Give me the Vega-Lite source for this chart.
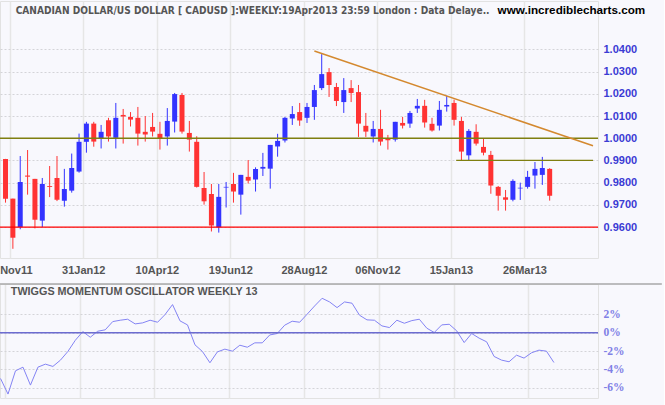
{
  "$schema": "https://vega.github.io/schema/vega-lite/v6.json",
  "background": "#f8f8fd",
  "padding": {"left": -14, "top": 0, "right": 0, "bottom": 8},
  "bounds": "flush",
  "spacing": 26,
  "config": {
    "view": {"stroke": "#e2e2e2"},
    "axis": {"labelFont": "Liberation Sans", "titleFont": "Liberation Sans"}
  },
  "datasets": {
    "candles": [
      {"d": "2011-11-18", "o": 0.9907, "h": 0.9907, "l": 0.9710, "c": 0.9728},
      {"d": "2011-11-25", "o": 0.9728, "h": 0.9728, "l": 0.9502, "c": 0.9552},
      {"d": "2011-12-02", "o": 0.9600, "h": 0.9920, "l": 0.9590, "c": 0.9803},
      {"d": "2011-12-09", "o": 0.9832, "h": 0.9947, "l": 0.9746, "c": 0.9827},
      {"d": "2011-12-16", "o": 0.9817, "h": 0.9817, "l": 0.9594, "c": 0.9633},
      {"d": "2011-12-23", "o": 0.9629, "h": 0.9821, "l": 0.9600, "c": 0.9794},
      {"d": "2011-12-30", "o": 0.9785, "h": 0.9875, "l": 0.9735, "c": 0.9781},
      {"d": "2012-01-06", "o": 0.9821, "h": 0.9920, "l": 0.9717, "c": 0.9723},
      {"d": "2012-01-13", "o": 0.9719, "h": 0.9862, "l": 0.9692, "c": 0.9771},
      {"d": "2012-01-20", "o": 0.9764, "h": 0.9931, "l": 0.9755, "c": 0.9866},
      {"d": "2012-01-27", "o": 0.9850, "h": 1.0021, "l": 0.9845, "c": 0.9984},
      {"d": "2012-02-03", "o": 0.9984, "h": 1.0074, "l": 0.9935, "c": 1.0066},
      {"d": "2012-02-10", "o": 1.0066, "h": 1.0074, "l": 0.9962, "c": 0.9985},
      {"d": "2012-02-17", "o": 1.0000, "h": 1.0060, "l": 0.9954, "c": 1.0029},
      {"d": "2012-02-24", "o": 1.0081, "h": 1.0092, "l": 0.9985, "c": 1.0008},
      {"d": "2012-03-02", "o": 1.0002, "h": 1.0159, "l": 0.9954, "c": 1.0092},
      {"d": "2012-03-09", "o": 1.0105, "h": 1.0132, "l": 0.9976, "c": 1.0098},
      {"d": "2012-03-16", "o": 1.0096, "h": 1.0118, "l": 1.0053, "c": 1.0084},
      {"d": "2012-03-23", "o": 1.0092, "h": 1.0141, "l": 0.9967, "c": 1.0021},
      {"d": "2012-03-30", "o": 1.0029, "h": 1.0100, "l": 0.9985, "c": 1.0017},
      {"d": "2012-04-06", "o": 1.0051, "h": 1.0114, "l": 1.0008, "c": 1.0030},
      {"d": "2012-04-13", "o": 1.0020, "h": 1.0074, "l": 0.9949, "c": 1.0000},
      {"d": "2012-04-20", "o": 1.0008, "h": 1.0136, "l": 0.9967, "c": 1.0078},
      {"d": "2012-04-27", "o": 1.0075, "h": 1.0204, "l": 1.0026, "c": 1.0199},
      {"d": "2012-05-04", "o": 1.0195, "h": 1.0204, "l": 1.0021, "c": 1.0030},
      {"d": "2012-05-11", "o": 1.0024, "h": 1.0078, "l": 0.9940, "c": 0.9994},
      {"d": "2012-05-18", "o": 0.9984, "h": 1.0009, "l": 0.9778, "c": 0.9781},
      {"d": "2012-05-25", "o": 0.9776, "h": 0.9848, "l": 0.9701, "c": 0.9716},
      {"d": "2012-06-01", "o": 0.9749, "h": 0.9794, "l": 0.9580, "c": 0.9607},
      {"d": "2012-06-08", "o": 0.9599, "h": 0.9794, "l": 0.9575, "c": 0.9736},
      {"d": "2012-06-15", "o": 0.9778, "h": 0.9803, "l": 0.9688, "c": 0.9781},
      {"d": "2012-06-22", "o": 0.9794, "h": 0.9844, "l": 0.9710, "c": 0.9760},
      {"d": "2012-06-29", "o": 0.9746, "h": 0.9835, "l": 0.9656, "c": 0.9835},
      {"d": "2012-07-06", "o": 0.9826, "h": 0.9902, "l": 0.9796, "c": 0.9809},
      {"d": "2012-07-13", "o": 0.9814, "h": 0.9869, "l": 0.9760, "c": 0.9862},
      {"d": "2012-07-20", "o": 0.9863, "h": 0.9934, "l": 0.9830, "c": 0.9871},
      {"d": "2012-07-27", "o": 0.9863, "h": 0.9970, "l": 0.9773, "c": 0.9970},
      {"d": "2012-08-03", "o": 0.9963, "h": 1.0020, "l": 0.9917, "c": 0.9988},
      {"d": "2012-08-10", "o": 0.9990, "h": 1.0096, "l": 0.9981, "c": 1.0092},
      {"d": "2012-08-17", "o": 1.0089, "h": 1.0145, "l": 1.0060, "c": 1.0109},
      {"d": "2012-08-24", "o": 1.0118, "h": 1.0159, "l": 1.0056, "c": 1.0080},
      {"d": "2012-08-31", "o": 1.0092, "h": 1.0159, "l": 1.0069, "c": 1.0141},
      {"d": "2012-09-07", "o": 1.0141, "h": 1.0240, "l": 1.0083, "c": 1.0217},
      {"d": "2012-09-14", "o": 1.0226, "h": 1.0379, "l": 1.0217, "c": 1.0289},
      {"d": "2012-09-21", "o": 1.0298, "h": 1.0316, "l": 1.0186, "c": 1.0240},
      {"d": "2012-09-28", "o": 1.0231, "h": 1.0249, "l": 1.0145, "c": 1.0168},
      {"d": "2012-10-05", "o": 1.0163, "h": 1.0271, "l": 1.0114, "c": 1.0217},
      {"d": "2012-10-12", "o": 1.0226, "h": 1.0262, "l": 1.0163, "c": 1.0204},
      {"d": "2012-10-19", "o": 1.0208, "h": 1.0240, "l": 1.0006, "c": 1.0066},
      {"d": "2012-10-26", "o": 1.0056, "h": 1.0114, "l": 1.0006, "c": 1.0030},
      {"d": "2012-11-02", "o": 1.0008, "h": 1.0078, "l": 0.9981, "c": 1.0042},
      {"d": "2012-11-09", "o": 1.0042, "h": 1.0128, "l": 0.9967, "c": 0.9985},
      {"d": "2012-11-16", "o": 0.9999, "h": 1.0015, "l": 0.9949, "c": 0.9991},
      {"d": "2012-11-23", "o": 0.9994, "h": 1.0074, "l": 0.9985, "c": 1.0074},
      {"d": "2012-11-30", "o": 1.0069, "h": 1.0096, "l": 1.0044, "c": 1.0057},
      {"d": "2012-12-07", "o": 1.0066, "h": 1.0123, "l": 1.0047, "c": 1.0114},
      {"d": "2012-12-14", "o": 1.0134, "h": 1.0177, "l": 1.0114, "c": 1.0146},
      {"d": "2012-12-21", "o": 1.0146, "h": 1.0173, "l": 1.0048, "c": 1.0071},
      {"d": "2012-12-28", "o": 1.0065, "h": 1.0092, "l": 1.0030, "c": 1.0035},
      {"d": "2013-01-04", "o": 1.0057, "h": 1.0168, "l": 1.0035, "c": 1.0128},
      {"d": "2013-01-11", "o": 1.0143, "h": 1.0191, "l": 1.0120, "c": 1.0150},
      {"d": "2013-01-18", "o": 1.0159, "h": 1.0174, "l": 1.0057, "c": 1.0083},
      {"d": "2013-01-25", "o": 1.0078, "h": 1.0096, "l": 0.9901, "c": 0.9940},
      {"d": "2013-02-01", "o": 0.9923, "h": 1.0041, "l": 0.9901, "c": 1.0033},
      {"d": "2013-02-08", "o": 1.0029, "h": 1.0063, "l": 0.9967, "c": 0.9976},
      {"d": "2013-02-15", "o": 0.9961, "h": 0.9997, "l": 0.9923, "c": 0.9935},
      {"d": "2013-02-22", "o": 0.9925, "h": 0.9943, "l": 0.9750, "c": 0.9787},
      {"d": "2013-03-01", "o": 0.9781, "h": 0.9785, "l": 0.9674, "c": 0.9741},
      {"d": "2013-03-08", "o": 0.9734, "h": 0.9767, "l": 0.9674, "c": 0.9723},
      {"d": "2013-03-15", "o": 0.9723, "h": 0.9815, "l": 0.9716, "c": 0.9808},
      {"d": "2013-03-22", "o": 0.9774, "h": 0.9800, "l": 0.9722, "c": 0.9777},
      {"d": "2013-03-29", "o": 0.9781, "h": 0.9853, "l": 0.9773, "c": 0.9826},
      {"d": "2013-04-05", "o": 0.9832, "h": 0.9893, "l": 0.9773, "c": 0.9862},
      {"d": "2013-04-12", "o": 0.9835, "h": 0.9916, "l": 0.9790, "c": 0.9866},
      {"d": "2013-04-19", "o": 0.9862, "h": 0.9865, "l": 0.9719, "c": 0.9741}
    ],
    "osc": [
      {"d": "2011-11-18", "v": -5.0}, {"d": "2011-11-25", "v": -6.7}, {"d": "2011-12-02", "v": -4.16},
      {"d": "2011-12-09", "v": -3.76}, {"d": "2011-12-16", "v": -5.72}, {"d": "2011-12-23", "v": -3.76},
      {"d": "2011-12-30", "v": -3.43}, {"d": "2012-01-06", "v": -3.68}, {"d": "2012-01-13", "v": -3.0},
      {"d": "2012-01-20", "v": -2.05}, {"d": "2012-01-27", "v": -0.82}, {"d": "2012-02-03", "v": 0.13},
      {"d": "2012-02-10", "v": -0.49}, {"d": "2012-02-17", "v": 0.17}, {"d": "2012-02-24", "v": 0.32},
      {"d": "2012-03-02", "v": 1.22}, {"d": "2012-03-09", "v": 1.37}, {"d": "2012-03-16", "v": 1.48},
      {"d": "2012-03-23", "v": 0.97}, {"d": "2012-03-30", "v": 1.08}, {"d": "2012-04-06", "v": 1.37},
      {"d": "2012-04-13", "v": 1.15}, {"d": "2012-04-20", "v": 1.99}, {"d": "2012-04-27", "v": 3.08},
      {"d": "2012-05-04", "v": 1.30}, {"d": "2012-05-11", "v": 0.86}, {"d": "2012-05-18", "v": -1.32},
      {"d": "2012-05-25", "v": -2.05}, {"d": "2012-06-01", "v": -3.28}, {"d": "2012-06-08", "v": -2.09},
      {"d": "2012-06-15", "v": -1.79}, {"d": "2012-06-22", "v": -2.01}, {"d": "2012-06-29", "v": -1.36},
      {"d": "2012-07-06", "v": -1.58}, {"d": "2012-07-13", "v": -1.10}, {"d": "2012-07-20", "v": -1.10},
      {"d": "2012-07-27", "v": -0.24}, {"d": "2012-08-03", "v": -0.08}, {"d": "2012-08-10", "v": 0.83},
      {"d": "2012-08-17", "v": 1.26}, {"d": "2012-08-24", "v": 1.15}, {"d": "2012-08-31", "v": 2.03},
      {"d": "2012-09-07", "v": 2.93}, {"d": "2012-09-14", "v": 3.77}, {"d": "2012-09-21", "v": 3.37},
      {"d": "2012-09-28", "v": 2.75}, {"d": "2012-10-05", "v": 3.37}, {"d": "2012-10-12", "v": 3.23},
      {"d": "2012-10-19", "v": 1.92}, {"d": "2012-10-26", "v": 1.41}, {"d": "2012-11-02", "v": 1.37},
      {"d": "2012-11-09", "v": 0.75}, {"d": "2012-11-16", "v": 0.57}, {"d": "2012-11-23", "v": 1.37},
      {"d": "2012-11-30", "v": 1.04}, {"d": "2012-12-07", "v": 1.33}, {"d": "2012-12-14", "v": 1.48},
      {"d": "2012-12-21", "v": 0.50}, {"d": "2012-12-28", "v": 0.03}, {"d": "2013-01-04", "v": 0.86},
      {"d": "2013-01-11", "v": 0.93}, {"d": "2013-01-18", "v": 0.21}, {"d": "2013-01-25", "v": -1.07},
      {"d": "2013-02-01", "v": -0.08}, {"d": "2013-02-08", "v": -0.59}, {"d": "2013-02-15", "v": -0.99},
      {"d": "2013-02-22", "v": -2.59}, {"d": "2013-03-01", "v": -2.99}, {"d": "2013-03-08", "v": -3.17},
      {"d": "2013-03-15", "v": -2.45}, {"d": "2013-03-22", "v": -2.77}, {"d": "2013-03-29", "v": -2.19},
      {"d": "2013-04-05", "v": -1.90}, {"d": "2013-04-12", "v": -2.01}, {"d": "2013-04-19", "v": -3.25}
    ]
  },
  "vconcat": [
    {
      "width": 598,
      "height": 257,
      "layer": [
        {
          "data": {"name": "candles"},
          "mark": {"type": "rule", "strokeWidth": 1, "clip": false},
          "encoding": {
            "x": {"field": "d", "type": "temporal", "title": null,
              "scale": {"type": "utc", "domain": [{"year": 2011, "month": 11, "date": 17, "hours": 12, "utc": true}, {"year": 2013, "month": 5, "date": 30, "hours": 6, "utc": true}]},
              "axis": {"values": [
                {"year": 2011, "month": 11, "date": 22, "utc": true},
                {"year": 2012, "month": 1, "date": 31, "utc": true},
                {"year": 2012, "month": 4, "date": 10, "utc": true},
                {"year": 2012, "month": 6, "date": 19, "utc": true},
                {"year": 2012, "month": 8, "date": 28, "utc": true},
                {"year": 2012, "month": 11, "date": 6, "utc": true},
                {"year": 2013, "month": 1, "date": 15, "utc": true},
                {"year": 2013, "month": 3, "date": 26, "utc": true}],
                "tickCount": 30,
                "format": "%d%b%y", "grid": true, "gridColor": "#e6e6e6", "gridWidth": 1.5, "ticks": false, "domain": false,
                "labelFont": "Liberation Sans", "labelFontSize": 11, "labelFontWeight": "bold", "labelColor": "#555555",
                "labelPadding": 6, "labelFlush": false, "labelOverlap": false, "title": null}},
            "y": {"field": "l", "type": "quantitative", "title": null,
              "scale": {"domain": [0.94606, 1.06183], "nice": false, "zero": false},
              "axis": {"orient": "right", "values": [0.96, 0.97, 0.98, 0.99, 1.0, 1.01, 1.02, 1.03, 1.04], "tickCount": 30, "format": ".4f",
                "grid": true, "gridDash": [2, 2], "gridColor": "#d4d4d8", "ticks": false, "domain": false, "labelOverlap": false,
                "labelFont": "Liberation Sans", "labelFontSize": 11, "labelFontWeight": "bold", "labelColor": "#3b3bd4", "labelPadding": 5, "title": null}},
            "y2": {"field": "h"},
            "color": {"condition": {"test": "datum.c >= datum.o", "value": "#3333ff"}, "value": "#ff3333"}
          }
        },
        {
          "data": {"name": "candles"},
          "mark": {"type": "bar", "width": 5, "clip": false},
          "encoding": {
            "x": {"field": "d", "type": "temporal", "title": null},
            "y": {"field": "o", "type": "quantitative", "title": null},
            "y2": {"field": "c"},
            "color": {"condition": {"test": "datum.c >= datum.o", "value": "#3333ff"}, "value": "#ff3333"}
          }
        },
        {
          "data": {"values": [{}]},
          "mark": {"type": "rule", "color": "#7f7f10", "strokeWidth": 1.3},
          "encoding": {"y": {"datum": 1.0, "type": "quantitative"}}
        },
        {
          "data": {"values": [{}]},
          "mark": {"type": "rule", "color": "#ff0000", "strokeWidth": 1.3},
          "encoding": {"y": {"datum": 0.96, "type": "quantitative"}}
        },
        {
          "data": {"values": [{"a": "2013-01-20", "b": "2013-05-30T06:00:00Z", "p": 0.99}]},
          "mark": {"type": "rule", "color": "#7f7f10", "strokeWidth": 1.3},
          "encoding": {
            "x": {"field": "a", "type": "temporal"},
            "x2": {"field": "b"},
            "y": {"field": "p", "type": "quantitative"}
          }
        },
        {
          "data": {"values": [{"a": "2012-09-07", "b": "2013-05-30T06:00:00Z", "p": 1.0393, "q": 0.9966}]},
          "mark": {"type": "rule", "color": "#d4892f", "strokeWidth": 1.5, "clip": false},
          "encoding": {
            "x": {"field": "a", "type": "temporal"},
            "x2": {"field": "b"},
            "y": {"field": "p", "type": "quantitative"},
            "y2": {"field": "q"}
          }
        },
        {
          "data": {"values": [{"t": "CANADIAN DOLLAR/US DOLLAR [ CADUSD ]:WEEKLY:19Apr2013 23:59 London : Data Delaye.."}]},
          "mark": {"type": "text", "align": "left", "baseline": "alphabetic", "font": "Liberation Sans Narrow, DejaVu Sans Condensed, Liberation Sans", "fontSize": 10.1, "fontWeight": "bold", "color": "#555555", "clip": false},
          "encoding": {
            "x": {"datum": {"year": 2011, "month": 11, "date": 27, "hours": 15, "utc": true}, "type": "temporal"},
            "y": {"datum": 1.0561, "type": "quantitative"},
            "text": {"field": "t"}
          }
        },
        {
          "data": {"values": [{"t": "www.incrediblecharts.com"}]},
          "mark": {"type": "text", "align": "right", "baseline": "alphabetic", "font": "Liberation Sans", "fontSize": 11.7, "fontWeight": "bold", "color": "#000000", "clip": false},
          "encoding": {
            "x": {"datum": {"year": 2013, "month": 7, "date": 19, "utc": true}, "type": "temporal"},
            "y": {"datum": 1.0561, "type": "quantitative"},
            "text": {"field": "t"}
          }
        }
      ]
    },
    {
      "width": 598,
      "height": 114,
      "layer": [
        {
          "data": {"name": "osc"},
          "mark": {"type": "line", "color": "#8484f4", "strokeWidth": 1},
          "encoding": {
            "x": {"field": "d", "type": "temporal", "title": null,
              "scale": {"type": "utc", "domain": [{"year": 2011, "month": 11, "date": 17, "hours": 12, "utc": true}, {"year": 2013, "month": 5, "date": 30, "hours": 6, "utc": true}]},
              "axis": {"values": [
                {"year": 2011, "month": 11, "date": 22, "utc": true},
                {"year": 2012, "month": 1, "date": 31, "utc": true},
                {"year": 2012, "month": 4, "date": 10, "utc": true},
                {"year": 2012, "month": 6, "date": 19, "utc": true},
                {"year": 2012, "month": 8, "date": 28, "utc": true},
                {"year": 2012, "month": 11, "date": 6, "utc": true},
                {"year": 2013, "month": 1, "date": 15, "utc": true},
                {"year": 2013, "month": 3, "date": 26, "utc": true}],
                "tickCount": 30,
                "grid": true, "gridColor": "#e6e6e6", "gridWidth": 1.5, "ticks": false, "domain": false, "labels": false, "title": null}},
            "y": {"field": "v", "type": "quantitative", "title": null,
              "scale": {"domain": [-7.13, 5.33], "nice": false, "zero": false},
              "axis": {"orient": "right", "values": [-6, -4, -2, 0, 2], "tickCount": 30, "labelExpr": "datum.value + '%'",
                "grid": true, "gridDash": [2, 2], "gridColor": "#d4d4d8", "ticks": false, "domain": false, "labelOverlap": false,
                "labelFont": "Liberation Serif", "labelFontSize": 11.5, "labelFontWeight": "bold", "labelColor": "#8080e6", "labelPadding": 5, "title": null}}
          }
        },
        {
          "data": {"values": [{}]},
          "mark": {"type": "rule", "color": "#6c6cd0", "strokeWidth": 1.3},
          "encoding": {"y": {"datum": 0, "type": "quantitative"}}
        },
        {
          "data": {"values": [{"a": "2011-11-13T18:00:00Z", "b": "2013-07-29T00:00:00Z", "p": 5.33}]},
          "mark": {"type": "rule", "color": "#a8a8a8", "strokeWidth": 1.5, "clip": false},
          "encoding": {
            "x": {"field": "a", "type": "temporal"},
            "x2": {"field": "b"},
            "y": {"field": "p", "type": "quantitative"}
          }
        },
        {
          "data": {"values": [{"t": "TWIGGS MOMENTUM OSCILLATOR WEEKLY 13"}]},
          "mark": {"type": "text", "align": "left", "baseline": "alphabetic", "font": "Liberation Sans", "fontSize": 10.8, "fontWeight": "bold", "color": "#555555", "clip": false},
          "encoding": {
            "x": {"datum": {"year": 2011, "month": 11, "date": 27, "hours": 15, "utc": true}, "type": "temporal"},
            "y": {"datum": 4.18, "type": "quantitative"},
            "text": {"field": "t"}
          }
        }
      ]
    }
  ]
}
